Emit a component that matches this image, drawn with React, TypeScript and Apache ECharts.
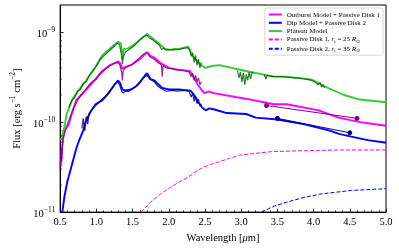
import React, { useEffect, useRef } from "react";
import * as echarts from "echarts";

const FONT = "Liberation Serif";

// Model curves [wavelength um, flux erg/s/cm2]
const outburstModel: number[][] = [[0.51,3.2e-11],[0.53,5.5e-11],[0.55,7.4e-11],[0.58,8.5e-11],[0.62,9.5e-11],[0.67,1.3e-10],[0.72,1.74e-10],[0.79,2.0e-10],[0.86,2.3e-10],[0.92,2.6e-10],[0.98,2.95e-10],[1.08,3.7e-10],[1.19,4.3e-10],[1.30,4.7e-10],[1.33,4.5e-10],[1.36,3.9e-10],[1.40,4.1e-10],[1.48,4.3e-10],[1.60,5.0e-10],[1.70,6.0e-10],[1.75,5.4e-10],[1.80,5.2e-10],[1.91,4.4e-10],[2.0,4.0e-10],[2.14,3.8e-10],[2.29,3.7e-10],[2.35,3.1e-10],[2.40,2.6e-10],[2.45,2.3e-10],[2.49,2.1e-10],[2.55,2.2e-10],[2.62,2.1e-10],[3.06,1.82e-10],[3.45,1.58e-10],[3.63,1.58e-10],[4.07,1.35e-10],[4.34,1.12e-10],[4.64,1.0e-10],[5.0,9.1e-11]];
const dipModel: number[][] = [[0.53,1.0e-11],[0.56,1.5e-11],[0.60,2.2e-11],[0.62,2.5e-11],[0.66,3.3e-11],[0.72,5.0e-11],[0.76,6.2e-11],[0.82,8.1e-11],[0.86,1.05e-10],[0.92,1.3e-10],[0.99,1.58e-10],[1.08,1.74e-10],[1.17,2.1e-10],[1.25,2.6e-10],[1.30,2.9e-10],[1.33,2.7e-10],[1.36,2.3e-10],[1.40,2.25e-10],[1.48,2.3e-10],[1.55,2.5e-10],[1.60,2.75e-10],[1.66,3.2e-10],[1.70,3.5e-10],[1.75,3.0e-10],[1.80,2.9e-10],[1.91,2.4e-10],[2.0,2.3e-10],[2.14,2.3e-10],[2.30,2.24e-10],[2.35,2.0e-10],[2.41,1.66e-10],[2.46,1.45e-10],[2.51,1.35e-10],[2.56,1.42e-10],[2.63,1.38e-10],[2.80,1.26e-10],[3.07,1.23e-10],[3.20,1.12e-10],[3.50,1.07e-10],[3.86,9.5e-11],[4.21,8.1e-11],[4.35,7.4e-11],[4.52,6.9e-11],[4.75,6.3e-11],[5.0,5.9e-11]];
const plateauModel: number[][] = [[0.51,6.3e-11],[0.56,8.9e-11],[0.59,1.23e-10],[0.68,1.86e-10],[0.78,2.4e-10],[0.86,2.9e-10],[0.98,4.0e-10],[1.08,5.5e-10],[1.19,6.6e-10],[1.30,7.8e-10],[1.34,7.5e-10],[1.36,5.0e-10],[1.38,6.5e-10],[1.44,6.6e-10],[1.54,7.4e-10],[1.62,8.5e-10],[1.70,9.5e-10],[1.78,8.5e-10],[1.87,7.4e-10],[1.95,6.5e-10],[2.05,6.3e-10],[2.14,6.5e-10],[2.27,6.9e-10],[2.33,5.4e-10],[2.42,4.5e-10],[2.50,4.0e-10],[2.60,4.2e-10],[2.70,4.3e-10],[3.06,3.7e-10],[3.45,3.2e-10],[3.63,3.2e-10],[3.98,2.95e-10],[4.15,2.5e-10],[4.42,2.0e-10],[4.64,1.78e-10],[5.0,1.66e-10]];
const passiveDisk1: number[][] = [[1.617,1.0e-11],[1.75,1.29e-11],[1.88,1.58e-11],[2.01,1.86e-11],[2.14,2.15e-11],[2.27,2.45e-11],[2.41,2.95e-11],[2.54,3.3e-11],[2.98,4.3e-11],[3.42,4.7e-11],[3.86,4.8e-11],[4.30,4.9e-11],[5.0,4.9e-11]];
const passiveDisk2: number[][] = [[3.28,1.0e-11],[3.46,1.17e-11],[3.63,1.29e-11],[3.86,1.45e-11],[4.08,1.58e-11],[4.30,1.66e-11],[4.52,1.74e-11],[5.0,1.82e-11]];

// Observed spectra
const plateauObs1: number[][] = [[0.62,1.45e-10],[0.66,1.75e-10],[0.70,1.85e-10],[0.74,2.2e-10],[0.78,2.3e-10],[0.82,2.7e-10],[0.86,2.8e-10],[0.90,3.3e-10],[0.95,3.7e-10],[1.0,4.2e-10],[1.05,4.9e-10],[1.10,5.4e-10],[1.15,5.9e-10],[1.20,6.4e-10],[1.25,7.0e-10],[1.29,7.6e-10],[1.32,7.2e-10],[1.35,5.5e-10],[1.36,4.4e-10],[1.37,5.2e-10],[1.40,6.0e-10],[1.44,6.3e-10],[1.48,6.6e-10],[1.52,7.0e-10],[1.56,7.6e-10],[1.60,8.2e-10],[1.64,8.7e-10],[1.68,9.1e-10],[1.70,9.3e-10],[1.73,8.6e-10],[1.77,8.3e-10],[1.82,7.7e-10],[1.87,7.2e-10],[1.90,6.4e-10],[1.93,6.6e-10],[1.97,6.3e-10],[2.02,6.4e-10],[2.08,6.5e-10],[2.14,6.4e-10],[2.20,6.6e-10],[2.26,6.7e-10],[2.29,6.3e-10],[2.31,5.4e-10],[2.33,5.9e-10],[2.35,4.6e-10],[2.37,5.5e-10],[2.39,4.3e-10],[2.41,5.0e-10],[2.43,4.0e-10],[2.45,4.6e-10]];
const plateauObs2: number[][] = [[2.95,3.7e-10],[2.97,3.1e-10],[2.99,3.6e-10],[3.01,2.8e-10],[3.03,3.5e-10],[3.05,2.6e-10],[3.07,3.4e-10],[3.09,2.9e-10],[3.11,3.6e-10],[3.13,3.0e-10],[3.15,3.6e-10],[3.17,3.5e-10]];
const plateauObs3: number[][] = [[3.32,3.4e-10],[3.34,3.0e-10],[3.36,3.3e-10],[3.45,3.2e-10],[3.55,3.2e-10],[3.65,3.15e-10],[3.75,3.1e-10],[3.85,3.05e-10],[3.95,2.95e-10],[4.02,2.8e-10],[4.06,2.6e-10],[4.09,2.75e-10],[4.11,2.45e-10],[4.13,2.6e-10],[4.15,2.4e-10]];
const outburstObs: number[][] = [[0.50,3.0e-11],[0.51,5.0e-11],[0.52,3.6e-11],[0.54,6.5e-11],[0.57,8.0e-11],[0.60,9.5e-11],[0.64,1.15e-10],[0.68,1.4e-10],[0.72,1.6e-10],[0.76,1.85e-10],[0.80,2.05e-10],[0.85,2.3e-10],[0.90,2.6e-10],[0.95,2.85e-10],[1.0,3.0e-10],[1.05,3.4e-10],[1.10,3.7e-10],[1.15,4.0e-10],[1.20,4.3e-10],[1.25,4.5e-10],[1.29,4.6e-10],[1.32,4.4e-10],[1.35,3.6e-10],[1.36,2.9e-10],[1.37,3.7e-10],[1.40,4.0e-10],[1.45,4.2e-10],[1.50,4.4e-10],[1.55,4.8e-10],[1.60,5.2e-10],[1.65,5.7e-10],[1.70,5.9e-10],[1.74,5.3e-10],[1.80,5.0e-10],[1.85,4.6e-10],[1.90,4.3e-10],[1.91,3.2e-10],[1.92,4.2e-10],[1.97,4.0e-10],[2.05,3.9e-10],[2.12,3.8e-10],[2.20,3.75e-10],[2.28,3.6e-10],[2.31,3.2e-10],[2.33,3.5e-10],[2.35,2.9e-10],[2.37,3.3e-10],[2.39,2.8e-10],[2.41,3.1e-10],[2.43,2.6e-10],[2.45,2.8e-10]];
const dipObs: number[][] = [[0.80,8.5e-11],[0.82,1.1e-10],[0.84,8.0e-11],[0.86,1.15e-10],[0.88,9.5e-11],[0.90,1.25e-10],[0.95,1.4e-10],[1.0,1.55e-10],[1.05,1.7e-10],[1.10,1.85e-10],[1.15,2.05e-10],[1.20,2.3e-10],[1.25,2.6e-10],[1.29,2.8e-10],[1.32,2.6e-10],[1.35,2.2e-10],[1.37,2.1e-10],[1.40,2.2e-10],[1.45,2.2e-10],[1.50,2.35e-10],[1.55,2.5e-10],[1.60,2.8e-10],[1.65,3.1e-10],[1.70,3.3e-10],[1.74,3.0e-10],[1.80,2.8e-10],[1.85,2.5e-10],[1.90,2.35e-10],[1.97,2.2e-10],[2.05,2.25e-10],[2.12,2.2e-10],[2.20,2.25e-10],[2.28,2.2e-10],[2.31,1.9e-10],[2.33,2.1e-10],[2.35,1.7e-10],[2.37,1.95e-10],[2.39,1.6e-10],[2.41,1.8e-10],[2.43,1.5e-10],[2.45,1.6e-10]];

// Photometry
const outburstPhot: number[][] = [[3.35,1.53e-10],[4.6,1.10e-10]];
const dipPhot: number[][] = [[3.5,1.10e-10],[4.5,7.6e-11]];

// Axis ticks
const xMin = 0.5, xMax = 5.0, xStep = 0.5;
const yMin = 1e-11, yMax = 2e-9;
const yMinorTicks = [2e-11,3e-11,4e-11,5e-11,6e-11,7e-11,8e-11,9e-11,2e-10,3e-10,4e-10,5e-10,6e-10,7e-10,8e-10,9e-10];

const legendNames = [
  "Outburst Model + Passive Disk 1",
  "Dip Model + Passive Disk 2",
  "Plateau Model",
  "Passive Disk 1, r_i = 25 R_sun",
  "Passive Disk 2, r_i = 35 R_sun",
];
const legendRich: Record<string, string> = {
  [legendNames[3]]: "{n|Passive Disk 1, }{i|r}{sb|i}{n| = 25 }{i|R}{sb|⊙}",
  [legendNames[4]]: "{n|Passive Disk 2, }{i|r}{sb|i}{n| = 35 }{i|R}{sb|⊙}",
};

export default function App() {
  const ref = useRef<HTMLDivElement>(null);
  useEffect(() => {
    if (!ref.current) return;
    const chart = echarts.init(ref.current, null, { renderer: "svg" });
    const line = (name: string, data: number[][], color: string, width: number, extra: any = {}) => ({
      type: "line", name, data, symbol: "none", showSymbol: false,
      lineStyle: { color, width, opacity: extra.opacity ?? 1, ...(extra.lineStyle || {}) },
      itemStyle: { color },
      z: extra.z ?? 2,
    });
    const obsStyle = { z: 3, opacity: 0.85 };
    const option: any = {
      animation: false,
      textStyle: { fontFamily: FONT },
      grid: { left: 46, right: 13, top: 5, bottom: 31, show: true, borderColor: "#000", borderWidth: 1, backgroundColor: "transparent" },
      legend: {
        data: legendNames,
        orient: "vertical",
        right: 16,
        top: 8,
        padding: [3, 3, 2, 3],
        itemGap: 1.3,
        itemWidth: 13,
        itemHeight: 7,
        itemStyle: { opacity: 0 },
        backgroundColor: "#fff",
        borderColor: "#cccccc",
        borderWidth: 0.8,
        borderRadius: 2,
        formatter: (n: string) => legendRich[n] || "{n|" + n + "}",
        textStyle: {
          fontFamily: FONT, fontSize: 7, color: "#000",
          rich: {
            n: { fontFamily: FONT, fontSize: 7, color: "#000" },
            i: { fontFamily: FONT, fontSize: 7, fontStyle: "italic", color: "#000" },
            sb: { fontFamily: FONT, fontSize: 5, color: "#000", verticalAlign: "bottom", lineHeight: 9 },
          },
        },
      },
      xAxis: {
        type: "value", min: xMin, max: xMax, interval: xStep,
        axisLine: { lineStyle: { color: "#000", width: 1 } },
        axisTick: { inside: true, length: 3.5, lineStyle: { color: "#000", width: 0.8 } },
        minorTick: { show: true, splitNumber: 5, length: 2, lineStyle: { color: "#000", width: 0.6 } },
        splitLine: { show: false },
        minorSplitLine: { show: false },
        axisLabel: { color: "#000", fontFamily: FONT, fontSize: 10.5, margin: 4, formatter: (v: number) => v.toFixed(1) },
        name: "{n|Wavelength [}{i|μ}{n|m]}",
        nameLocation: "middle",
        nameGap: 15,
        nameTextStyle: {
          rich: {
            n: { fontFamily: FONT, fontSize: 10.5, color: "#000" },
            i: { fontFamily: FONT, fontSize: 10.5, fontStyle: "italic", color: "#000" },
          },
        },
      },
      yAxis: {
        type: "log", logBase: 10, min: yMin, max: yMax,
        axisLine: { lineStyle: { color: "#000", width: 1 } },
        axisTick: { inside: true, length: 3.5, lineStyle: { color: "#000", width: 0.8 } },
        splitLine: { show: false },
        axisLabel: {
          showMaxLabel: false,
          margin: 5,
          formatter: (v: number) => {
            const e = Math.round(Math.log10(v));
            return "{b|10}{s|−" + Math.abs(e) + "}";
          },
          rich: {
            b: { fontFamily: FONT, fontSize: 10.5, color: "#000", verticalAlign: "bottom", lineHeight: 14 },
            s: { fontFamily: FONT, fontSize: 7.5, color: "#000", verticalAlign: "top", lineHeight: 14 },
          },
        },
        name: "{n|Flux [erg s}{s|−1}{n| cm}{s|−2}{n|]}",
        nameLocation: "middle",
        nameGap: 30,
        nameTextStyle: {
          rich: {
            n: { fontFamily: FONT, fontSize: 10.5, color: "#000", verticalAlign: "bottom", lineHeight: 14 },
            s: { fontFamily: FONT, fontSize: 7.5, color: "#000", verticalAlign: "top", lineHeight: 14 },
          },
        },
      },
      series: [
        line(legendNames[0], outburstModel, "#ff00ff", 1.9),
        line(legendNames[1], dipModel, "#0000ff", 1.9),
        line(legendNames[2], plateauModel, "#33cc33", 1.9),
        line(legendNames[3], passiveDisk1, "#ff00ff", 1, { lineStyle: { type: [4, 2] } }),
        line(legendNames[4], passiveDisk2, "#0000ff", 1, { lineStyle: { type: [4, 2] } }),
        line("obsP1", plateauObs1, "#006400", 1.2, obsStyle),
        line("obsP2", plateauObs2, "#006400", 1.2, obsStyle),
        line("obsP3", plateauObs3, "#006400", 1.2, obsStyle),
        line("obsO", outburstObs, "#800080", 1.2, obsStyle),
        line("obsD", dipObs, "#00008b", 1.2, obsStyle),
        {
          type: "line", name: "photO", data: outburstPhot, symbol: "circle", symbolSize: 5,
          lineStyle: { color: "#800080", width: 1 }, itemStyle: { color: "#800080" }, z: 4,
        },
        {
          type: "line", name: "photD", data: dipPhot, symbol: "circle", symbolSize: 5,
          lineStyle: { color: "#000080", width: 1 }, itemStyle: { color: "#000080" }, z: 4,
        },
        {
          type: "custom", name: "yminor", silent: true, clip: false, z: 5,
          data: yMinorTicks.map((v) => [xMin, v]),
          renderItem: (_p: any, api: any) => {
            const pt = api.coord([api.value(0), api.value(1)]);
            return {
              type: "line",
              shape: { x1: pt[0], y1: pt[1], x2: pt[0] + 2, y2: pt[1] },
              style: { stroke: "#000", lineWidth: 0.6 },
            };
          },
        },
      ],
    };
    chart.setOption(option);
    return () => chart.dispose();
  }, []);
  return <div ref={ref} style={{ position: "fixed", left: 0, top: 0, width: 399, height: 248 }} />;
}
